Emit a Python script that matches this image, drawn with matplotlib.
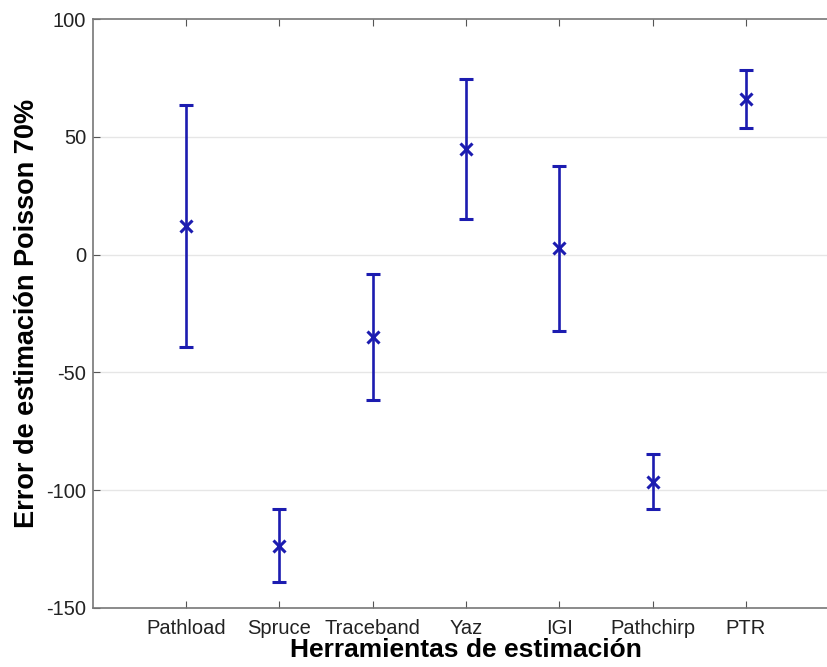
import matplotlib
matplotlib.use('Agg')
import matplotlib.pyplot as plt
import numpy as np

plt.rcParams['font.family'] = ['Liberation Sans', 'DejaVu Sans']
plt.rcParams['axes.unicode_minus'] = False

# Datos
herramientas = ['Pathload', 'Spruce', 'Traceband', 'Yaz', 'IGI', 'Pathchirp', 'PTR']
error_medio = [12.3, -123.7, -35.1, 44.7, 2.7, -96.4, 65.9]
limite_inf = [-39.3, -138.8, -61.7, 15.1, -32.4, -108.1, 53.6]
limite_sup = [63.4, -108.1, -8.2, 74.5, 37.7, -84.6, 78.4]

x = np.arange(1, len(herramientas) + 1)
medio = np.array(error_medio)
err = [medio - np.array(limite_inf), np.array(limite_sup) - medio]

fig = plt.figure(figsize=(8.28, 6.67), dpi=100)
ax = fig.add_axes([0.1123, 0.0885, 0.901, 0.883])

color = '#1c1cb0'
ax.errorbar(x, medio, yerr=err, fmt='x', color=color, ecolor=color,
            elinewidth=1.9, capsize=5, capthick=1.9, markersize=8, markeredgewidth=2.2)

ax.set_xlim(0, 8)
ax.set_ylim(-150, 100)
ax.set_xticks(x)
ax.set_xticklabels(herramientas)
ax.set_yticks([-150, -100, -50, 0, 50, 100])

for v in [-100, -50, 0, 50]:
    ax.axhline(v, color='#e6e6e6', linewidth=1.0, zorder=0)

ax.tick_params(axis='both', direction='in', length=5, width=0.8, colors='#555555',
               labelsize=14.5, labelcolor='#222222', top=True, right=True)
ax.tick_params(axis='x', pad=8)
ax.tick_params(axis='y', pad=5)
for s in ax.spines.values():
    s.set_color('#777777')
    s.set_linewidth(1.2)

ax.set_xlabel('Herramientas de estimación', fontsize=19, fontweight='bold', labelpad=0)
ax.set_ylabel('Error de estimación Poisson 70%', fontsize=19.5, fontweight='bold', labelpad=4)

fig.savefig('out.png', dpi=100)
